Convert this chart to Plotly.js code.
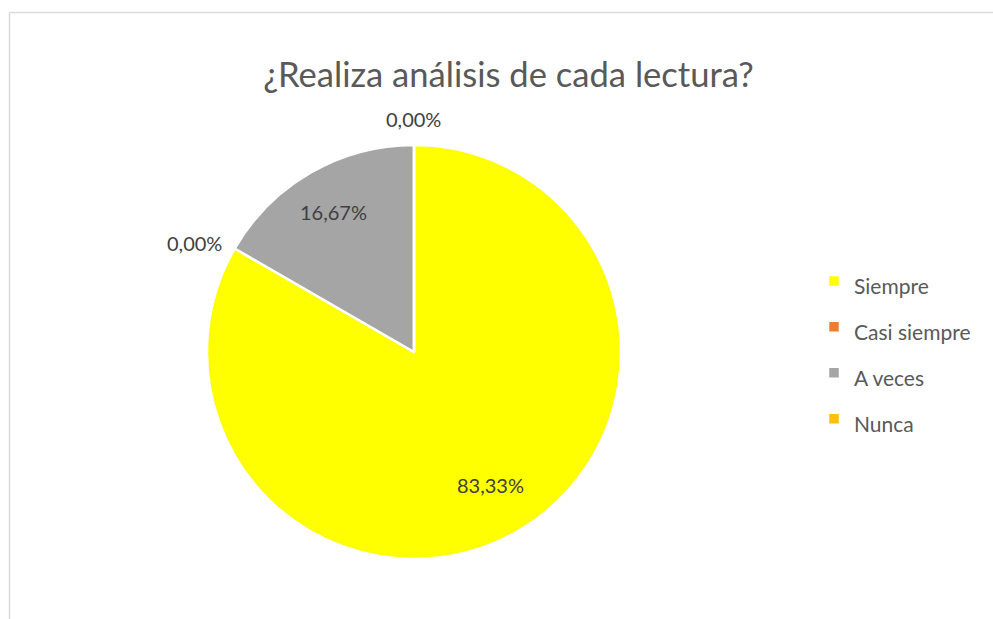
<!DOCTYPE html>
<html>
<head>
<meta charset="utf-8">
<script src="https://cdn.plot.ly/plotly-3.0.1.min.js"></script>
<style>
  html, body { margin: 0; padding: 0; background: #fff; }
  #graph { width: 993px; height: 619px; }
</style>
</head>
<body>
<div id="graph"></div>
<script>
// categories and shares (percent)
var categories = ['Siempre', 'Casi siempre', 'A veces', 'Nunca'];
var shares = [83.33, 0, 16.67, 0];
var sliceColors = ['#FFFF00', '#ED7D31', '#A5A5A5', '#FFC000'];
var chartTitle = '¿Realiza análisis de cada lectura?';

var W = 993, H = 619;
var mt = 145, mb = 60;              // plot area top / bottom
var cx = 414, R = 207;              // pie centre x and radius (px)
var cy = mt + R;
var PH = H - mt - mb;

function fmt(v) {
  return v.toFixed(2).replace('.', ',') + '%';
}
var textLabels = shares.map(fmt);

// legend rows are spaced by the legend font size, text drawn smaller inside
var legendLabels = categories.map(function (c) {
  return '<span style="font-size:21px">' + c + '</span>';
});

var trace = {
  type: 'pie',
  labels: legendLabels,
  values: shares,
  textinfo: 'none',
  sort: false,
  direction: 'clockwise',
  rotation: 0,
  hoverinfo: 'none',
  marker: { colors: sliceColors, line: { color: '#ffffff', width: 2.5 } },
  domain: { x: [(cx - R) / W, (cx + R) / W], y: [0, 1] }
};

// data labels: inside at mid angle, zero slices just outside their edge
var annots = [];
var total = shares.reduce(function (a, b) { return a + b; }, 0);
var cum = 0;
var lblFont = { family: 'Lato, sans-serif', size: 20, color: '#404040' };
for (var i = 0; i < shares.length; i++) {
  var ann = { xref: 'paper', yref: 'paper', text: textLabels[i], showarrow: false, font: lblFont };
  var px, py;
  if (shares[i] === 0) {
    var a = 2 * Math.PI * cum / total;
    var s = Math.sin(a), c = Math.cos(a);
    px = cx + (R + 12) * s;
    py = cy - (R + 12) * c;
    ann.xanchor = s < -0.3 ? 'right' : (s > 0.3 ? 'left' : 'center');
    ann.yanchor = c > 0.6 ? 'bottom' : (c < -0.6 ? 'top' : 'middle');
  } else {
    var am = 2 * Math.PI * (cum + shares[i] / 2) / total;
    // big slice label sits a bit nearer the centre, as excel does
    var k = shares[i] / total > 0.5 ? 0.74 : 0.78;
    px = cx + k * R * Math.sin(am);
    py = cy - k * R * Math.cos(am);
    ann.xanchor = 'center';
    ann.yanchor = 'middle';
  }
  ann.x = px / W;
  ann.y = (H - mb - py) / PH;
  annots.push(ann);
  cum += shares[i];
}

var topY = (H - mb - 12.5) / PH;
var leftX = 9.5 / W;

var layout = {
  width: W,
  height: H,
  margin: { l: 0, r: 0, t: mt, b: mb },
  paper_bgcolor: '#ffffff',
  title: {
    text: chartTitle,
    font: { family: 'Lato, sans-serif', size: 34.6, color: '#595959' },
    x: 0.512, xanchor: 'center',
    y: 1 - 75 / H, yanchor: 'middle', yref: 'container'
  },
  showlegend: true,
  legend: {
    x: 814 / W, xanchor: 'left',
    y: (H - mb - 350) / PH, yanchor: 'middle',
    font: { family: 'Lato, sans-serif', size: 33, color: '#595959' },
    bgcolor: 'rgba(0,0,0,0)'
  },
  annotations: annots,
  shapes: [
    { type: 'line', xref: 'paper', yref: 'paper',
      x0: leftX, x1: 1.01, y0: topY, y1: topY,
      line: { color: '#d9d9d9', width: 1.5 } },
    { type: 'line', xref: 'paper', yref: 'paper',
      x0: leftX, x1: leftX, y0: topY, y1: -0.2,
      line: { color: '#d9d9d9', width: 1.5 } }
  ]
};

Plotly.newPlot('graph', [trace], layout, { displayModeBar: false, staticPlot: true });
</script>
</body>
</html>
